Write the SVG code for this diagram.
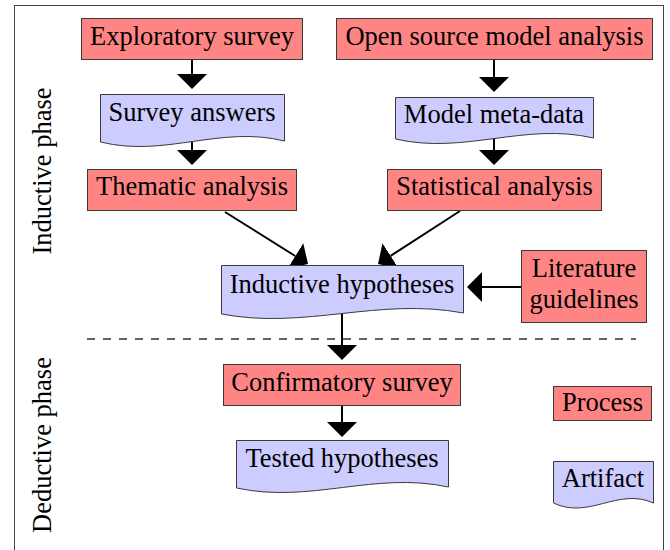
<svg xmlns="http://www.w3.org/2000/svg" width="670" height="550" viewBox="0 0 670 550">
<style>
  .proc { fill: #FF8585; stroke: #3a3a3a; stroke-width: 1; }
  .art { fill: #CCCCFF; stroke: #3a3a3a; stroke-width: 1; }
  .tx { font-family: 'Liberation Serif', serif !important; font-size: 26.5px; fill: #000; text-anchor: middle; }
  .conn { stroke: #000; stroke-width: 2; fill: none; marker-end: url(#ah); }
</style>
<defs>
  <marker id="ah" markerUnits="userSpaceOnUse" markerWidth="16" markerHeight="30" refX="0" refY="15" orient="auto" viewBox="0 0 16 30">
    <path d="M0,0 L15,15 L0,30 Z" fill="#000"/>
  </marker>
</defs>
<rect width="670" height="550" fill="#fff"/>
<rect x="14.5" y="5.5" width="649" height="600" fill="none" stroke="#444" stroke-width="1"/>
<text class="tx" style="font-family:'Liberation Serif',serif" transform="translate(51,171) rotate(-90)">Inductive phase</text>
<text class="tx" style="font-family:'Liberation Serif',serif" transform="translate(51,445) rotate(-90)">Deductive phase</text>
<line x1="87" y1="339" x2="636" y2="339" stroke="#333" stroke-width="1.3" stroke-dasharray="8,8"/>

<g id="connectors">
  <line class="conn" x1="192" y1="59" x2="192" y2="74"/>
  <line class="conn" x1="192" y1="140" x2="192" y2="150"/>
  <line class="conn" x1="494" y1="59" x2="494" y2="77"/>
  <line class="conn" x1="494" y1="136" x2="494" y2="150"/>
  <line class="conn" x1="225" y1="212" x2="295.3" y2="256"/>
  <line class="conn" x1="460" y1="211" x2="390.6" y2="255.9"/>
  <line class="conn" x1="521" y1="287" x2="482" y2="287"/>
  <line class="conn" x1="342" y1="312" x2="342" y2="345"/>
  <line class="conn" x1="342" y1="406" x2="342" y2="422"/>
</g>

<g id="exploratory-survey">
  <rect class="proc" x="81.5" y="18.5" width="221" height="41"/>
  <text class="tx" style="font-family:'Liberation Serif',serif" x="192" y="45">Exploratory survey</text>
</g>
<g id="open-source-model-analysis">
  <rect class="proc" x="336.5" y="18.5" width="316" height="41"/>
  <text class="tx" style="font-family:'Liberation Serif',serif" x="494.5" y="45">Open source model analysis</text>
</g>
<g id="survey-answers">
  <path class="art" d="M100.5,94.5 H284.5 V141 C220,125 165,158 100.5,142 Z"/>
  <text class="tx" style="font-family:'Liberation Serif',serif" x="192" y="121">Survey answers</text>
</g>
<g id="model-meta-data">
  <path class="art" d="M395.5,97.5 H593.5 V138 C524,122 465,155 395.5,139 Z"/>
  <text class="tx" style="font-family:'Liberation Serif',serif" x="494" y="123">Model meta-data</text>
</g>
<g id="thematic-analysis">
  <rect class="proc" x="87.5" y="169.5" width="209" height="41"/>
  <text class="tx" style="font-family:'Liberation Serif',serif" x="192" y="195">Thematic analysis</text>
</g>
<g id="statistical-analysis">
  <rect class="proc" x="387.5" y="169.5" width="214" height="41"/>
  <text class="tx" style="font-family:'Liberation Serif',serif" x="494.5" y="195">Statistical analysis</text>
</g>
<g id="inductive-hypotheses">
  <path class="art" d="M221.5,265.5 H463.5 V313 C378,297 306,330 221.5,314 Z"/>
  <text class="tx" style="font-family:'Liberation Serif',serif" x="342" y="293">Inductive hypotheses</text>
</g>
<g id="literature-guidelines">
  <rect class="proc" x="521.5" y="250.5" width="125" height="72"/>
  <text class="tx" style="font-family:'Liberation Serif',serif" x="584" y="277">Literature</text>
  <text class="tx" style="font-family:'Liberation Serif',serif" x="584" y="308">guidelines</text>
</g>
<g id="confirmatory-survey">
  <rect class="proc" x="223.5" y="364.5" width="237" height="41"/>
  <text class="tx" style="font-family:'Liberation Serif',serif" x="342" y="391">Confirmatory survey</text>
</g>
<g id="tested-hypotheses">
  <path class="art" d="M236.5,440.5 H448.5 V487 C374,471 311,504 236.5,488 Z"/>
  <text class="tx" style="font-family:'Liberation Serif',serif" x="342" y="467">Tested hypotheses</text>
</g>
<g id="legend-process">
  <rect class="proc" x="553.5" y="386.5" width="98" height="34"/>
  <text class="tx" style="font-family:'Liberation Serif',serif" x="602.5" y="411">Process</text>
</g>
<g id="legend-artifact">
  <path class="art" d="M553.5,461.5 H653.5 V503 C618,487 589,520 553.5,503 Z"/>
  <text class="tx" style="font-family:'Liberation Serif',serif" x="603" y="487">Artifact</text>
</g>
</svg>
